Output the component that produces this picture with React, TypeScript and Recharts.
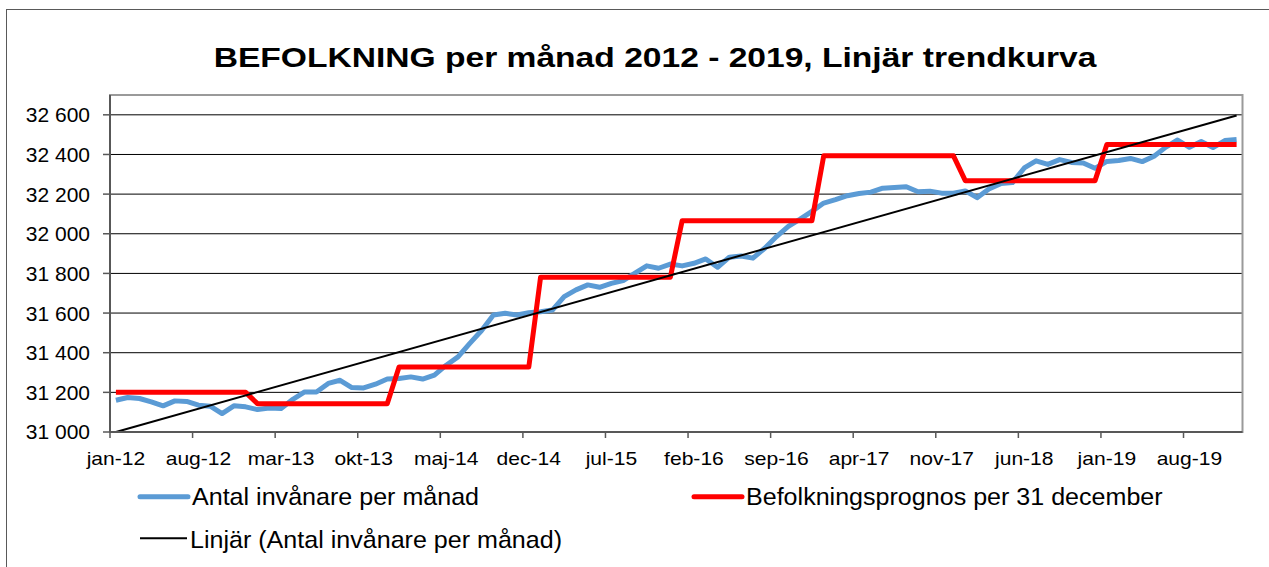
import { LineChart, Line, XAxis, YAxis, CartesianGrid, ReferenceArea } from 'recharts'

const FONT = '"Liberation Sans", Arial, sans-serif'

const MONTHS = ['jan', 'feb', 'mar', 'apr', 'maj', 'jun', 'jul', 'aug', 'sep', 'okt', 'nov', 'dec']
const YEARS = [12, 13, 14, 15, 16, 17, 18, 19]

// Antal invånare per månad, jan-12 .. dec-19
const invanare = [
  31160, 31174, 31169, 31152, 31132, 31157, 31154, 31135, 31130, 31093, 31132, 31127,
  31113, 31121, 31118, 31165, 31202, 31202, 31245, 31261, 31224, 31222, 31241, 31267,
  31270, 31278, 31267, 31287, 31337, 31379, 31447, 31512, 31590, 31599, 31590, 31602,
  31607, 31615, 31683, 31717, 31742, 31730, 31750, 31764, 31801, 31838, 31826, 31847,
  31838, 31851, 31873, 31831, 31882, 31888, 31877, 31927, 31986, 32037, 32074, 32113,
  32155, 32172, 32192, 32203, 32210, 32230, 32233, 32237, 32212, 32215, 32205, 32204,
  32216, 32182, 32226, 32253, 32258, 32332, 32368, 32350, 32374, 32360, 32357, 32330,
  32365, 32370, 32380, 32364, 32391, 32437, 32473, 32436, 32465, 32435, 32470, 32475,
]

// Befolkningsprognos per 31 december, one value per year 2012..2019
const prognos = [31200, 31143, 31328, 31781, 32066, 32393, 32268, 32450]

// Linjär trendkurva, value at first and last month
const trendStart = 31000
const trendEnd = 32597

const yTicks = [31000, 31200, 31400, 31600, 31800, 32000, 32200, 32400, 32600]
const xLabelEvery = 7

const monthLabels = YEARS.flatMap(y => MONTHS.map(m => `${m}-${y}`))
const N = monthLabels.length

const data = monthLabels.map((m, i) => ({
  i,
  month: m,
  antal: invanare[i],
  prognos: prognos[Math.floor(i / 12)],
  trend: i === 0 ? trendStart : i === N - 1 ? trendEnd : null,
}))

// tick marks sit on category boundaries, labels in the middle of the category
const xTicks = monthLabels.map((_, i) => i).filter(i => i % xLabelEvery === 0).map(i => i - 0.5)

const W = 1269
const H = 567
const M = { top: 95, right: 26.5, bottom: 95, left: 0 }
const Y_AXIS_W = 110
const X_AXIS_H = 40
const BAND = (W - M.left - M.right - Y_AXIS_W) / N

const BLUE = '#5b9bd5'
const RED = '#ff0000'
const AXIS = '#585858'

const fmtY = (v: number) => `${Math.floor(v / 1000)} ${String(v % 1000).padStart(3, '0')}`

function XTick({ x, y, payload }: any) {
  const idx = Math.round(payload.value + 0.5)
  return (
    <g transform={`translate(${x + BAND / 2},${y})`}>
      <text x={0} y={0} dy={19} textAnchor="middle" fill="#000"
        style={{ fontFamily: FONT, fontSize: 18 }} transform="scale(1.17,1)">
        {monthLabels[idx]}
      </text>
    </g>
  )
}

const legendText = { fontFamily: FONT, fontSize: 24 }

export default function App() {
  return (
    <div style={{ position: 'absolute', left: 0, top: 0, width: W, height: H, background: '#fff', overflow: 'hidden' }}>
      {/* chart frame */}
      <div style={{ position: 'absolute', left: 6, top: 9, width: W, height: H, borderLeft: '1.5px solid #595959', borderTop: '1.5px solid #595959' }} />

      <LineChart width={W} height={H} data={data} margin={M} style={{ position: 'absolute', left: 0, top: 0 }}>
        <CartesianGrid horizontal vertical={false} stroke="#000" strokeWidth={1} />
        <ReferenceArea x1={-0.5} x2={N - 0.5} y1={31000} y2={32700} fill="none" stroke="#9a9a9a" strokeWidth={2} ifOverflow="visible" />
        <XAxis
          type="number"
          dataKey="i"
          domain={[-0.5, N - 0.5]}
          ticks={xTicks}
          interval={0}
          height={X_AXIS_H}
          tick={<XTick />}
          tickSize={6}
          tickMargin={8}
          axisLine={{ stroke: AXIS, strokeWidth: 2 }}
          tickLine={{ stroke: AXIS, strokeWidth: 1.5 }}
        />
        <YAxis
          domain={[31000, 32700]}
          ticks={yTicks}
          interval={0}
          width={Y_AXIS_W}
          tickFormatter={fmtY}
          tickSize={7}
          tickMargin={13}
          tick={{ fill: '#000', fontSize: 21, fontFamily: FONT }}
          axisLine={{ stroke: AXIS, strokeWidth: 2 }}
          tickLine={{ stroke: AXIS, strokeWidth: 1.5 }}
        />
        <Line type="linear" dataKey="antal" stroke={BLUE} strokeWidth={5} dot={false} isAnimationActive={false} strokeLinejoin="round" />
        <Line type="linear" dataKey="prognos" stroke={RED} strokeWidth={5} dot={false} isAnimationActive={false} strokeLinejoin="round" />
        <Line type="linear" dataKey="trend" stroke="#000" strokeWidth={2} dot={false} connectNulls isAnimationActive={false} />
      </LineChart>

      {/* title and legend */}
      <svg width={W} height={H} style={{ position: 'absolute', left: 0, top: 0, pointerEvents: 'none' }}>
        <text transform="translate(655,67) scale(1.2,1)" textAnchor="middle"
          style={{ fontFamily: FONT, fontSize: 28, fontWeight: 'bold' }} fill="#000">
          BEFOLKNING per månad 2012 - 2019, Linjär trendkurva
        </text>

        <line x1={140} x2={188} y1={496.7} y2={496.7} stroke={BLUE} strokeWidth={5} strokeLinecap="round" />
        <text transform="translate(192,505) scale(1.045,1)" style={legendText} fill="#000">Antal invånare per månad</text>

        <line x1={694} x2={742} y1={496.7} y2={496.7} stroke={RED} strokeWidth={5} strokeLinecap="round" />
        <text transform="translate(746,505) scale(1.045,1)" style={legendText} fill="#000">Befolkningsprognos per 31 december</text>

        <line x1={140} x2={187} y1={538.3} y2={538.3} stroke="#000" strokeWidth={2} />
        <text transform="translate(190,548.3) scale(1.045,1)" style={legendText} fill="#000">Linjär (Antal invånare per månad)</text>
      </svg>
    </div>
  )
}
